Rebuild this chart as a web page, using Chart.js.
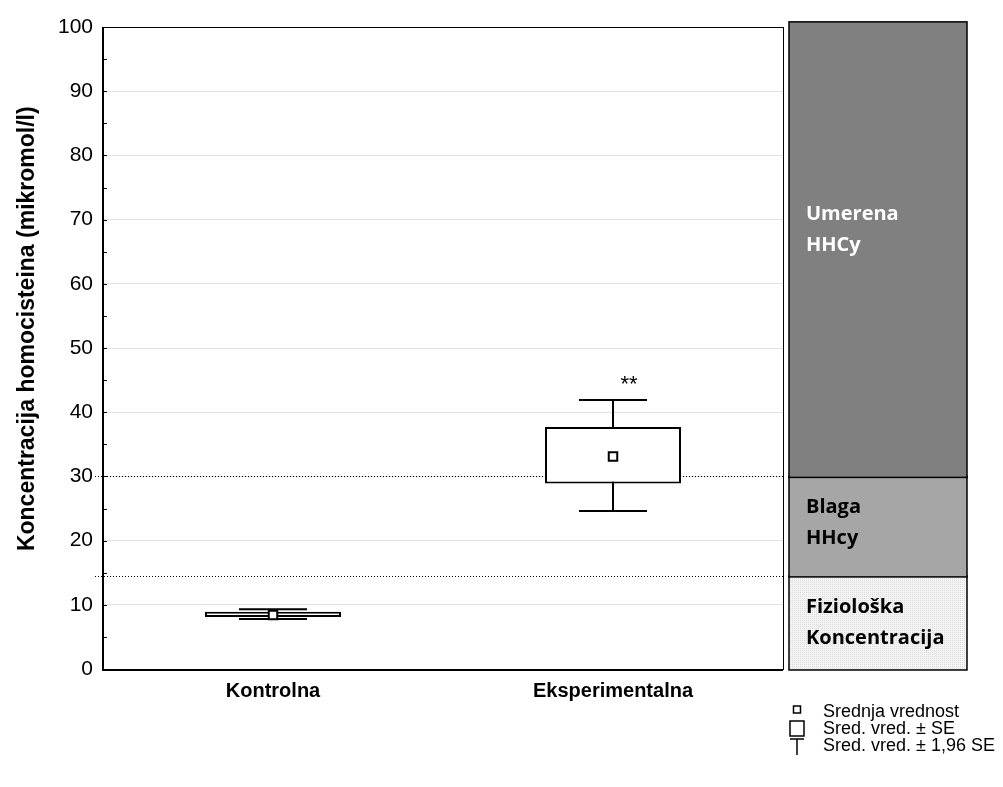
<!DOCTYPE html>
<html>
<head>
<meta charset="utf-8">
<script src="https://cdn.jsdelivr.net/npm/chart.js@4"></script>
<style>
  html, body { margin: 0; padding: 0; background: #fff; }
  #wrap { width: 1003px; height: 787px; }
</style>
</head>
<body>
<div id="wrap"><canvas id="boxCanvas" width="1003" height="787"></canvas></div>
<script>
const groups = ["Kontrolna", "Eksperimentalna"];
const means = [8.4, 33.1];
const seLow = [8.1, 28.9];
const seHigh = [8.9, 37.7];
const ciLow = [7.8, 24.6];
const ciHigh = [9.3, 41.9];
const yTicks = [0, 10, 20, 30, 40, 50, 60, 70, 80, 90, 100];
const refLines = [14.5, 30];
const bandEdges = [0, 14.5, 30, 100.8];
const bandLabels = [["Fiziološka", "Koncentracija"], ["Blaga", "HHcy"], ["Umerena", "HHCy"]];
const legendLabels = ["Srednja vrednost", "Sred. vred. \u00b1 SE", "Sred. vred. \u00b1 1,96 SE"];
const yTitle = "Koncentracija homocisteina (mikromol/l)";
const starText = "**";
const starValue = 44.7;

// light dotted fill for the lowest band
function makePattern() {
    const c = document.createElement("canvas");
    c.width = 2; c.height = 2;
    const g = c.getContext("2d");
    g.fillStyle = "#f4f4f4"; g.fillRect(0, 0, 2, 2);
    g.fillStyle = "#dcdcdc"; g.fillRect(0, 0, 1, 1);
    return g.createPattern(c, "repeat");
}

const whiskers = {
    id: "whiskers",
    beforeDatasetsDraw(chart) {
        const ctx = chart.ctx, a = chart.chartArea, x = chart.scales.x, y = chart.scales.y;
        ctx.save();
        // reference dotted lines
        ctx.strokeStyle = "#000";
        ctx.lineWidth = 1;
        ctx.setLineDash([1, 2]);
        refLines.forEach(v => {
            const py = Math.round(y.getPixelForValue(v)) + 0.5;
            ctx.beginPath();
            ctx.moveTo(a.left - 8, py); ctx.lineTo(a.right, py);
            ctx.stroke();
        });
        ctx.setLineDash([]);
        // whiskers +-1.96 SE
        const cap = (x.getPixelForValue(1) - x.getPixelForValue(0)) * 0.1;
        ctx.lineWidth = 2;
        groups.forEach((g, i) => {
            const cx = x.getPixelForValue(i);
            const lo = y.getPixelForValue(ciLow[i]);
            const hi = y.getPixelForValue(ciHigh[i]);
            ctx.beginPath();
            ctx.moveTo(cx, lo); ctx.lineTo(cx, hi);
            ctx.moveTo(cx - cap, lo); ctx.lineTo(cx + cap, lo);
            ctx.moveTo(cx - cap, hi); ctx.lineTo(cx + cap, hi);
            ctx.stroke();
        });
        ctx.restore();
    },
    afterDraw(chart) {
        const ctx = chart.ctx, a = chart.chartArea, y = chart.scales.y, x = chart.scales.x;
        ctx.save();
        // frame
        ctx.strokeStyle = "#000";
        ctx.lineWidth = 1;
        ctx.strokeRect(a.left + 0.5, a.top + 0.5, a.right - a.left, a.bottom - a.top);
        ctx.lineWidth = 2;
        ctx.beginPath();
        ctx.moveTo(a.left, a.top); ctx.lineTo(a.left, a.bottom + 1); ctx.lineTo(a.right, a.bottom + 1);
        ctx.stroke();
        // inner ticks, major and minor
        ctx.lineWidth = 1;
        for (let v = 5; v < 100; v += 5) {
            const py = Math.round(y.getPixelForValue(v)) + 0.5;
            ctx.beginPath();
            ctx.moveTo(a.left, py); ctx.lineTo(a.left + 4, py);
            ctx.stroke();
        }
        // y title, a bit above the axis middle as in the original
        ctx.save();
        ctx.translate(28, y.getPixelForValue(53));
        ctx.rotate(-Math.PI / 2);
        ctx.fillStyle = "#000";
        ctx.font = "bold 23px 'Liberation Sans', Arial, sans-serif";
        ctx.textAlign = "center";
        ctx.textBaseline = "middle";
        ctx.fillText(yTitle, 0, 0);
        ctx.restore();
        // stars
        ctx.fillStyle = "#000";
        ctx.font = "22px 'Liberation Sans', Arial, sans-serif";
        ctx.textAlign = "center";
        ctx.textBaseline = "middle";
        ctx.fillText(starText, x.getPixelForValue(1) + 16, y.getPixelForValue(starValue) + 3);

        // side panel with bands
        const px0 = a.right + 6, px1 = a.right + 184;
        const fills = [makePattern(), "#a6a6a6", "#808080"];
        const textCol = ["#000", "#000", "#fff"];
        const shift = [-1, -4, -20];
        for (let i = 0; i < 3; i++) {
            const top = y.getPixelForValue(bandEdges[i + 1]);
            const bot = y.getPixelForValue(bandEdges[i]) + 1;
            ctx.fillStyle = fills[i];
            ctx.fillRect(px0, top, px1 - px0, bot - top);
            ctx.strokeStyle = "#000";
            ctx.lineWidth = 1.5;
            ctx.strokeRect(px0, top, px1 - px0, bot - top);
            ctx.fillStyle = textCol[i];
            ctx.font = "bold 20px 'Open Sans', 'Noto Sans', sans-serif";
            ctx.textAlign = "left";
            ctx.textBaseline = "middle";
            const mid = (top + bot) / 2 + shift[i];
            ctx.fillText(bandLabels[i][0], px0 + 17, mid - 15);
            ctx.fillText(bandLabels[i][1], px0 + 17, mid + 16);
        }

        // legend
        const lx = a.right + 14, tx = a.right + 40;
        const ly = [a.bottom + 43, a.bottom + 60, a.bottom + 77];
        ctx.strokeStyle = "#000";
        ctx.lineWidth = 1.5;
        ctx.strokeRect(lx - 3.5, ly[0] - 6, 7, 7);
        ctx.strokeRect(lx - 7, ly[1] - 8, 14, 15);
        ctx.beginPath();
        ctx.moveTo(lx - 7, ly[2] - 7); ctx.lineTo(lx + 7, ly[2] - 7);
        ctx.moveTo(lx, ly[2] - 7); ctx.lineTo(lx, ly[2] + 9);
        ctx.stroke();
        ctx.fillStyle = "#000";
        ctx.font = "18px 'Liberation Sans', Arial, sans-serif";
        ctx.textAlign = "left";
        ctx.textBaseline = "middle";
        legendLabels.forEach((t, i) => ctx.fillText(t, tx, ly[i]));
        ctx.restore();
    }
};

const boxCanvas = document.getElementById("boxCanvas");

const boxChart = new Chart(boxCanvas, {
    type: "bar",
    data: {
        labels: groups,
        datasets: [{
            type: "line",
            label: "Srednja vrednost",
            data: means,
            showLine: false,
            pointStyle: "rect",
            pointRadius: 6,
            pointBorderWidth: 2,
            pointBackgroundColor: "#fff",
            pointBorderColor: "#000",
            order: 0
        }, {
            label: "Sred. vred. \u00b1 SE",
            data: groups.map((g, i) => [seLow[i], seHigh[i]]),
            backgroundColor: "#fff",
            borderColor: "#000",
            borderWidth: 2,
            borderSkipped: false,
            barPercentage: 0.4,
            categoryPercentage: 1,
            grouped: false,
            order: 1
        }]
    },
    options: {
        responsive: false,
        animation: false,
        layout: { padding: { top: 27, right: 220, left: 0, bottom: 0 } },
        plugins: {
            legend: { display: false },
            tooltip: { enabled: false }
        },
        scales: {
            x: {
                offset: true,
                afterFit: s => { s.height = 118; },
                grid: { display: false, drawTicks: false },
                border: { display: false },
                ticks: {
                    padding: 10,
                    color: "#000",
                    font: { family: "'Liberation Sans', Arial, sans-serif", size: 20, weight: "bold" }
                }
            },
            y: {
                min: 0,
                max: 100,
                afterFit: s => { s.width = 103; },
                afterBuildTicks: s => { s.ticks = yTicks.map(v => ({ value: v })); },
                grid: {
                    drawTicks: false,
                    color: c => (c.tick.value === 0 || c.tick.value === 100) ? "rgba(0,0,0,0)" : "#e2e2e2"
                },
                border: { display: false },
                ticks: {
                    padding: 10,
                    color: "#000",
                    font: { family: "'Liberation Sans', Arial, sans-serif", size: 21 }
                }
            }
        }
    },
    plugins: [whiskers]
});
</script>
</body>
</html>
